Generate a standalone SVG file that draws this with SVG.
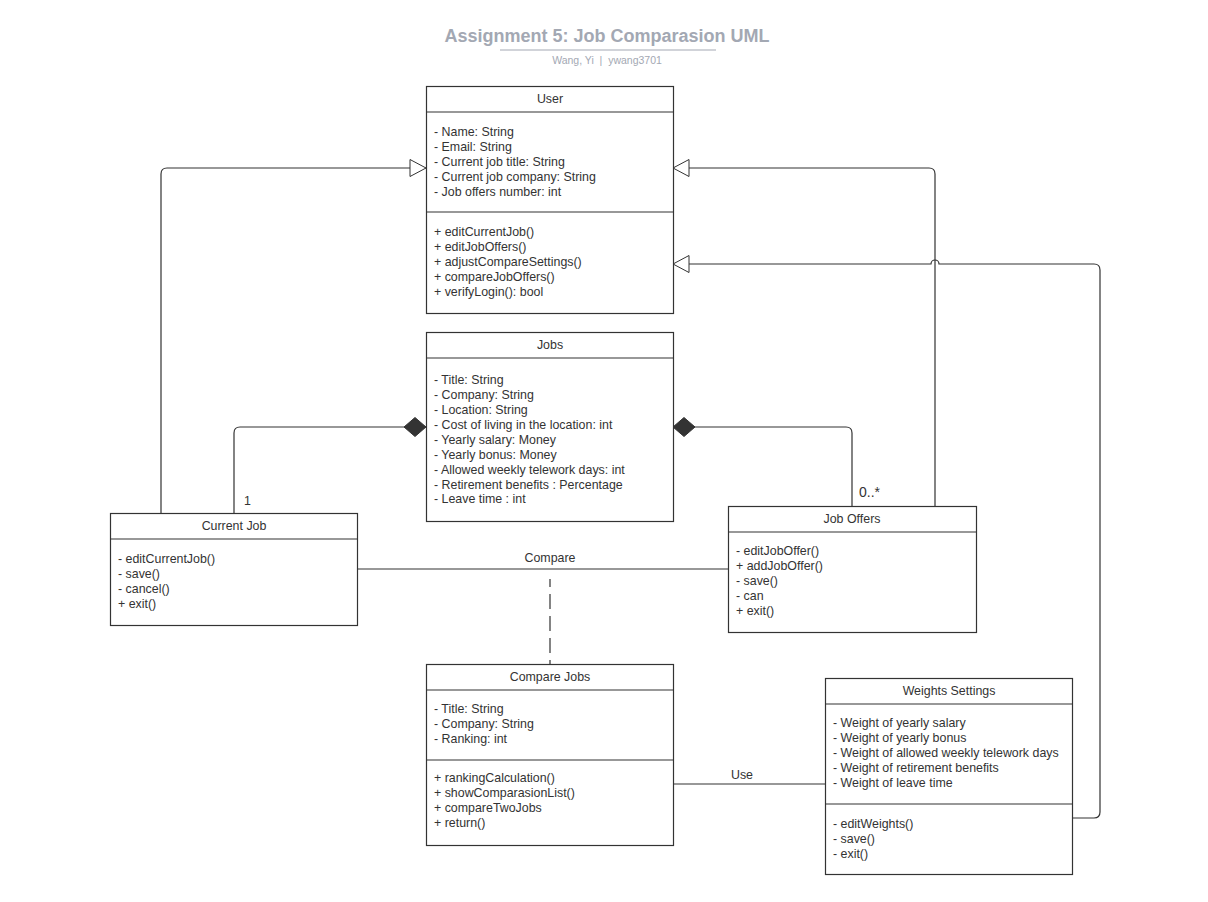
<svg xmlns="http://www.w3.org/2000/svg" width="1208" height="902" viewBox="0 0 1208 902">
<style>
.box{fill:#fff;stroke:#333;stroke-width:1.2}
.div{stroke:#333;stroke-width:1.2}
.t{font-family:"Liberation Sans",Arial,sans-serif;font-size:12.4px;fill:#333}
.c{text-anchor:middle}
.con{fill:none;stroke:#333;stroke-width:1.2}
.title{font-family:"Liberation Sans",Arial,sans-serif;font-size:18px;font-weight:bold;fill:#a3a8b3;text-anchor:middle}
.sub{font-family:"Liberation Sans",Arial,sans-serif;font-size:10.5px;fill:#a3a8b3;text-anchor:middle;white-space:pre}
</style>
<defs>
<marker id="gen" markerWidth="20" markerHeight="20" refX="17" refY="9.5" orient="auto" markerUnits="userSpaceOnUse"><path d="M1,1 L17,9.5 L1,18 Z" fill="#fff" stroke="#333" stroke-width="1"/></marker>
<marker id="dia" markerWidth="24" markerHeight="22" refX="0" refY="10" orient="auto" markerUnits="userSpaceOnUse"><path d="M0,10 L11,0.5 L22,10 L11,19.5 Z" fill="#333" stroke="#333" stroke-width="1"/></marker>
</defs>
<rect width="1208" height="902" fill="#fff"/>
<g id="title">
<text class="title" x="607" y="42">Assignment 5: Job Comparasion UML</text>
<line x1="500" y1="50" x2="716" y2="50" stroke="#a3a8b3" stroke-width="1"/>
<text class="sub" x="607" y="64" xml:space="preserve">Wang, Yi  |  ywang3701</text>
</g>
<g id="connectors">
<path class="con" d="M161,513 L161,174 Q161,168 167,168 L426,168" marker-end="url(#gen)"/>
<path class="con" d="M935,506 L935,174 Q935,168 929,168 L673,168" marker-end="url(#gen)"/>
<path class="con" d="M1072,818 L1094,818 Q1100,818 1100,812 L1100,270 Q1100,264 1094,264 L939,264 A4,4 0 0 0 931,264 L673,264" marker-end="url(#gen)"/>
<path class="con" d="M426,427 L240,427 Q234,427 234,433 L234,513" marker-start="url(#dia)"/>
<path class="con" d="M673,427 L846,427 Q852,427 852,433 L852,506" marker-start="url(#dia)"/>
<path class="con" d="M357,569 L728,569"/>
<path class="con" d="M550,579 L550,664" stroke-dasharray="15 7" stroke-dashoffset="7"/>
<path class="con" d="M673,784 L825,784"/>
<text class="t" x="244" y="505">1</text>
<text class="t" x="859" y="497" style="font-size:14px">0..*</text>
<text class="t c" x="550" y="562">Compare</text>
<text class="t c" x="742" y="779">Use</text>
</g>
<g id="user">
<rect class="box" x="426.5" y="86.5" width="247" height="227"/>
<line class="div" x1="426.5" y1="112" x2="673.5" y2="112"/>
<line class="div" x1="426.5" y1="212" x2="673.5" y2="212"/>
<text class="t c" x="550" y="103">User</text>
<text class="t" x="434" y="136">- Name: String</text>
<text class="t" x="434" y="151">- Email: String</text>
<text class="t" x="434" y="166">- Current job title: String</text>
<text class="t" x="434" y="181">- Current job company: String</text>
<text class="t" x="434" y="196">- Job offers number: int</text>
<text class="t" x="434" y="236">+ editCurrentJob()</text>
<text class="t" x="434" y="251">+ editJobOffers()</text>
<text class="t" x="434" y="266">+ adjustCompareSettings()</text>
<text class="t" x="434" y="281">+ compareJobOffers()</text>
<text class="t" x="434" y="296">+ verifyLogin(): bool</text>
</g>
<g id="jobs">
<rect class="box" x="426.5" y="332.5" width="247" height="189"/>
<line class="div" x1="426.5" y1="358" x2="673.5" y2="358"/>
<text class="t c" x="550" y="349">Jobs</text>
<text class="t" x="434" y="384">- Title: String</text>
<text class="t" x="434" y="399">- Company: String</text>
<text class="t" x="434" y="414">- Location: String</text>
<text class="t" x="434" y="429">- Cost of living in the location: int</text>
<text class="t" x="434" y="444">- Yearly salary: Money</text>
<text class="t" x="434" y="459">- Yearly bonus: Money</text>
<text class="t" x="434" y="474">- Allowed weekly telework days: int</text>
<text class="t" x="434" y="489">- Retirement benefits : Percentage</text>
<text class="t" x="434" y="503">- Leave time : int</text>
</g>
<g id="current-job">
<rect class="box" x="110.5" y="513.5" width="247" height="112"/>
<line class="div" x1="110.5" y1="539" x2="357.5" y2="539"/>
<text class="t c" x="234" y="530">Current Job</text>
<text class="t" x="118" y="563">- editCurrentJob()</text>
<text class="t" x="118" y="578">- save()</text>
<text class="t" x="118" y="593">- cancel()</text>
<text class="t" x="118" y="608">+ exit()</text>
</g>
<g id="job-offers">
<rect class="box" x="728.5" y="506.5" width="248" height="126"/>
<line class="div" x1="728.5" y1="532" x2="976.5" y2="532"/>
<text class="t c" x="852" y="523">Job Offers</text>
<text class="t" x="736" y="555">- editJobOffer()</text>
<text class="t" x="736" y="570">+ addJobOffer()</text>
<text class="t" x="736" y="585">- save()</text>
<text class="t" x="736" y="600">- can</text>
<text class="t" x="736" y="615">+ exit()</text>
</g>
<g id="compare-jobs">
<rect class="box" x="426.5" y="664.5" width="247" height="181"/>
<line class="div" x1="426.5" y1="690" x2="673.5" y2="690"/>
<line class="div" x1="426.5" y1="760" x2="673.5" y2="760"/>
<text class="t c" x="550" y="681">Compare Jobs</text>
<text class="t" x="434" y="713">- Title: String</text>
<text class="t" x="434" y="728">- Company: String</text>
<text class="t" x="434" y="743">- Ranking: int</text>
<text class="t" x="434" y="782">+ rankingCalculation()</text>
<text class="t" x="434" y="797">+ showComparasionList()</text>
<text class="t" x="434" y="812">+ compareTwoJobs</text>
<text class="t" x="434" y="827">+ return()</text>
</g>
<g id="weights-settings">
<rect class="box" x="825.5" y="678.5" width="247" height="196"/>
<line class="div" x1="825.5" y1="704" x2="1072.5" y2="704"/>
<line class="div" x1="825.5" y1="804" x2="1072.5" y2="804"/>
<text class="t c" x="949" y="695">Weights Settings</text>
<text class="t" x="833" y="727">- Weight of yearly salary</text>
<text class="t" x="833" y="742">- Weight of yearly bonus</text>
<text class="t" x="833" y="757">- Weight of allowed weekly telework days</text>
<text class="t" x="833" y="772">- Weight of retirement benefits</text>
<text class="t" x="833" y="787">- Weight of leave time</text>
<text class="t" x="833" y="828">- editWeights()</text>
<text class="t" x="833" y="843">- save()</text>
<text class="t" x="833" y="858">- exit()</text>
</g>
</svg>
